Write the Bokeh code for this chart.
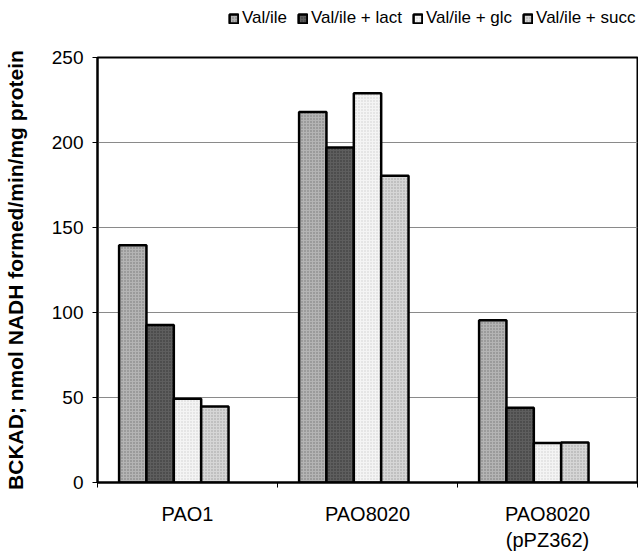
import numpy as np
from bokeh.plotting import figure
from bokeh.layouts import column
from bokeh.models import Range1d, FixedTicker, Legend, LegendItem
from bokeh.embed import file_html
from bokeh.resources import INLINE

categories = ["PAO1", "PAO8020", "PAO8020\n(pPZ362)"]
series_names = ["Val/ile", "Val/ile + lact", "Val/ile + glc", "Val/ile + succ"]
val_ile = [139.5, 218, 95.5]
val_ile_lact = [92.7, 197, 44]
val_ile_glc = [49.3, 229, 23.3]
val_ile_succ = [44.7, 180.5, 23.5]
y_ticks = [0, 50, 100, 150, 200, 250]

series = [val_ile, val_ile_lact, val_ile_glc, val_ile_succ]
fills = ["#b4b4b4", "#5e5e5e", "#f4f4f4", "#d6d6d6"]
hatch_alpha = [0.35, 0.45, 0.15, 0.25]

FONT = "Liberation Sans"
LEG_H = 30

p = figure(width=638, height=553 - LEG_H, output_backend="svg", toolbar_location=None,
           x_range=Range1d(0, 3), y_range=Range1d(0, 250),
           min_border_left=97, min_border_right=1, min_border_top=57 - LEG_H, min_border_bottom=71)
p.background_fill_color = "white"
p.border_fill_color = "white"
p.outline_line_color = "black"
p.outline_line_width = 2

bw = 0.152
centers = np.arange(len(categories)) + 0.5

def bar_style(k):
    return dict(fill_color=fills[k], line_color="black", line_width=2.5,
                hatch_pattern="dot", hatch_color="black", hatch_scale=3,
                hatch_weight=1, hatch_alpha=hatch_alpha[k])

for k, vals in enumerate(series):
    p.vbar(x=centers + (k - 2) * bw, top=vals, width=bw, bottom=0, **bar_style(k))

# axes
p.xaxis.ticker = FixedTicker(ticks=list(centers), minor_ticks=[0, 1, 2, 3])
p.xaxis.major_label_overrides = {float(c): lab for c, lab in zip(centers, categories)}
p.xaxis.major_tick_out = 0
p.xaxis.major_tick_in = 0
p.xaxis.minor_tick_out = 5
p.xaxis.minor_tick_in = 0
p.xaxis.minor_tick_line_color = "black"
p.xaxis.axis_line_color = "black"
p.xaxis.axis_line_width = 2
p.xaxis.major_label_text_font = FONT
p.xaxis.major_label_text_font_size = "20px"
p.xaxis.major_label_text_color = "black"
p.xaxis.major_label_standoff = 15

p.yaxis.ticker = FixedTicker(ticks=y_ticks)
p.yaxis.major_tick_out = 5
p.yaxis.major_tick_in = 0
p.yaxis.minor_tick_out = 0
p.yaxis.minor_tick_in = 0
p.yaxis.axis_line_color = "black"
p.yaxis.axis_line_width = 2
p.yaxis.major_label_text_font = FONT
p.yaxis.major_label_text_font_size = "19px"
p.yaxis.major_label_text_color = "black"
p.yaxis.major_label_standoff = 9
p.yaxis.axis_label = "BCKAD; nmol NADH formed/min/mg protein"
p.yaxis.axis_label_text_font = FONT
p.yaxis.axis_label_text_font_style = "bold"
p.yaxis.axis_label_text_font_size = "21px"
p.yaxis.axis_label_text_color = "black"
p.yaxis.axis_label_standoff = 22

p.xgrid.grid_line_color = None
p.ygrid.grid_line_color = "#8a8a8a"
p.ygrid.grid_line_width = 1

# legend strip on top: hidden copies of the bars, only their legend is shown
lf = figure(width=638, height=LEG_H, output_backend="svg", toolbar_location=None,
            x_range=Range1d(0, 3), y_range=Range1d(0, 250),
            min_border_left=0, min_border_right=0, min_border_top=0, min_border_bottom=0)
lf.axis.visible = False
lf.grid.grid_line_color = None
lf.outline_line_color = None
leg_renderers = []
for k, vals in enumerate(series):
    r = lf.vbar(x=centers + (k - 2) * bw, top=vals, width=bw, bottom=0, **bar_style(k))
    r.visible = False
    leg_renderers.append(r)
legend = Legend(items=[LegendItem(label=n, renderers=[r]) for n, r in zip(series_names, leg_renderers)],
                orientation="horizontal", location=(131, 2),
                label_text_font=FONT, label_text_font_size="17px", label_text_color="black",
                glyph_width=11, glyph_height=11, label_standoff=3, spacing=10,
                padding=0, margin=0, border_line_color=None, background_fill_alpha=0,
                inactive_fill_alpha=0)
lf.add_layout(legend, "center")

layout = column(lf, p, spacing=0)
open("out.html", "w").write(file_html(layout, INLINE))
